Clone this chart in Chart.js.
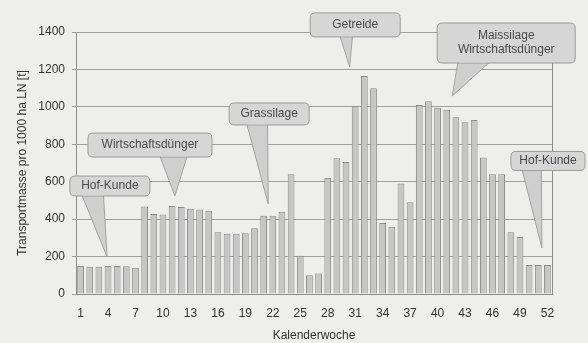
<!DOCTYPE html>
<html>
<head>
<meta charset="utf-8">
<script src="https://cdn.jsdelivr.net/npm/chart.js@4/dist/chart.umd.min.js"></script>
<style>
  html, body { margin: 0; padding: 0; background: #eeeeec; }
  #wrap { width: 588px; height: 343px; position: relative; }
</style>
</head>
<body>
<div id="wrap"><canvas id="c"></canvas></div>
<script>
// Kalenderwochen (categories)
const weeks = ['1','2','3','4','5','6','7','8','9','10','11','12','13','14','15','16','17','18',
  '19','20','21','22','23','24','25','26','27','28','29','30','31','32','33','34','35','36',
  '37','38','39','40','41','42','43','44','45','46','47','48','49','50','51','52'];

// Transportmasse pro 1000 ha LN [t] je Kalenderwoche
const transportMass = [150, 145, 145, 150, 150, 148, 140,
  468, 428, 425, 470, 465, 455, 452, 445,
  330, 322, 322, 325, 352, 418, 418, 440, 640,
  205, 100, 110,
  620, 725, 705, 1005, 1165, 1100, 380, 360, 590, 490,
  1010, 1030, 995, 985, 945, 918, 930, 730, 640, 640,
  330, 305, 155, 155, 155];

// week labels printed under the axis
const shownWeekLabels = ['1','4','7','10','13','16','19','22','25','28','31','34','37','40','43','46','49','52'];

// y axis range
const yMin = 0, yMax = 1400, yStep = 200;

// callout texts and where their pointers land (week index / value)
const calloutTexts = [['Hof-Kunde'], ['Wirtschaftsdünger'], ['Grassilage'], ['Getreide'],
  ['Maissilage', 'Wirtschaftsdünger'], ['Hof-Kunde']];
const calloutTips = [[2.9, 198], [10.3, 524], [20.5, 481], [29.4, 1213], [40.6, 1058], [50.4, 246]];

// callout box placement: centre (week index, value), size in px, pointer base as fractions of box width
const calloutBoxes = [
  { cx: 3.2,  cy: 577,  w: 80,  h: 20, b0: 0.15, b1: 0.42 },
  { cx: 7.58, cy: 796,  w: 124, h: 24, b0: 0.58, b1: 0.80 },
  { cx: 20.6, cy: 962,  w: 80,  h: 22, b0: 0.22, b1: 0.48 },
  { cx: 30.0, cy: 1438, w: 90,  h: 24, b0: 0.33, b1: 0.47 },
  { cx: 46.5, cy: 1341, w: 138, h: 40, b0: 0.15, b1: 0.38 },
  { cx: 51.06, cy: 711, w: 74,  h: 19, b0: 0.15, b1: 0.41 }
];

const FONT = '"Liberation Sans", Arial, sans-serif';

// right-hand edge of the plot frame
const frameRight = {
  id: 'frameRight',
  afterDatasetsDraw(chart) {
    const { ctx, chartArea: a } = chart;
    ctx.save();
    ctx.strokeStyle = '#8c8c8c';
    ctx.lineWidth = 1;
    ctx.beginPath();
    ctx.moveTo(Math.round(a.right) + 0.5, a.top);
    ctx.lineTo(Math.round(a.right) + 0.5, a.bottom);
    ctx.stroke();
    ctx.restore();
  }
};

function roundRect(ctx, x, y, w, h, r) {
  ctx.beginPath();
  ctx.moveTo(x + r, y);
  ctx.lineTo(x + w - r, y);
  ctx.quadraticCurveTo(x + w, y, x + w, y + r);
  ctx.lineTo(x + w, y + h - r);
  ctx.quadraticCurveTo(x + w, y + h, x + w - r, y + h);
  ctx.lineTo(x + r, y + h);
  ctx.quadraticCurveTo(x, y + h, x, y + h - r);
  ctx.lineTo(x, y + r);
  ctx.quadraticCurveTo(x, y, x + r, y);
  ctx.closePath();
}

// speech-bubble callouts positioned through the chart scales
const callouts = {
  id: 'callouts',
  afterDraw(chart) {
    const { ctx, scales: { x, y } } = chart;
    ctx.save();
    calloutTexts.forEach((lines, i) => {
      const b = calloutBoxes[i];
      const cx = x.getPixelForValue(b.cx);
      const cy = y.getPixelForValue(b.cy);
      const left = cx - b.w / 2, top = cy - b.h / 2;
      const tipX = x.getPixelForValue(calloutTips[i][0]);
      const tipY = y.getPixelForValue(calloutTips[i][1]);
      const bx0 = left + b.w * b.b0, bx1 = left + b.w * b.b1;

      // pointer
      ctx.beginPath();
      ctx.moveTo(bx0, top + b.h - 1);
      ctx.lineTo(tipX, tipY);
      ctx.lineTo(bx1, top + b.h - 1);
      ctx.closePath();
      ctx.fillStyle = '#cfcfcf';
      ctx.fill();
      ctx.strokeStyle = '#a2a2a2';
      ctx.lineWidth = 1;
      ctx.stroke();

      // box
      roundRect(ctx, left, top, b.w, b.h, 5);
      ctx.fillStyle = '#d6d6d6';
      ctx.fill();
      ctx.strokeStyle = '#9a9a9a';
      ctx.stroke();
      // cover the pointer seam
      ctx.fillStyle = '#d6d6d6';
      ctx.fillRect(bx0 + 1, top + b.h - 3, bx1 - bx0 - 2, 2.5);

      ctx.fillStyle = '#4a4a4a';
      ctx.font = '12px ' + FONT;
      ctx.textAlign = 'center';
      ctx.textBaseline = 'middle';
      const lh = 14;
      lines.forEach((t, k) => {
        ctx.fillText(t, cx, cy + (k - (lines.length - 1) / 2) * lh);
      });
    });
    ctx.restore();
  }
};

new Chart(document.getElementById('c'), {
  type: 'bar',
  data: {
    labels: weeks,
    datasets: [{
      data: transportMass,
      backgroundColor: '#c6c6c6',
      borderColor: '#8a8a8a',
      borderWidth: 1,
      borderSkipped: 'bottom',
      categoryPercentage: 1,
      barPercentage: 0.74
    }]
  },
  options: {
    responsive: true,
    maintainAspectRatio: false,
    animation: false,
    layout: { padding: { top: 32, right: 36, left: 0, bottom: 0 } },
    plugins: { legend: { display: false }, tooltip: { enabled: false } },
    scales: {
      x: {
        grid: { display: false, drawTicks: false },
        border: { display: true, color: '#8c8c8c', width: 1 },
        ticks: {
          autoSkip: false, maxRotation: 0, minRotation: 0, padding: 12,
          color: '#333', font: { family: FONT, size: 12 },
          callback: (v, i) => shownWeekLabels.includes(weeks[i]) ? weeks[i] : ''
        },
        title: { display: true, text: 'Kalenderwoche', color: '#333',
          font: { family: FONT, size: 12 }, padding: { top: 0, bottom: 0 } },
        afterFit: s => { s.height = 49; }
      },
      y: {
        min: yMin, max: yMax,
        grid: { color: '#a0a0a0', lineWidth: 1, drawTicks: true, tickLength: 4 },
        border: { display: true, color: '#8c8c8c', width: 1 },
        ticks: { stepSize: yStep, padding: 7, color: '#333',
          font: { family: FONT, size: 12 }, callback: v => String(v) },
        title: { display: true, text: 'Transportmasse pro 1000 ha LN [t]', color: '#333',
          font: { family: FONT, size: 12 }, padding: { top: 15, bottom: 0 } },
        afterFit: s => { s.width = 76; }
      }
    }
  },
  plugins: [frameRight, callouts]
});
</script>
</body>
</html>
